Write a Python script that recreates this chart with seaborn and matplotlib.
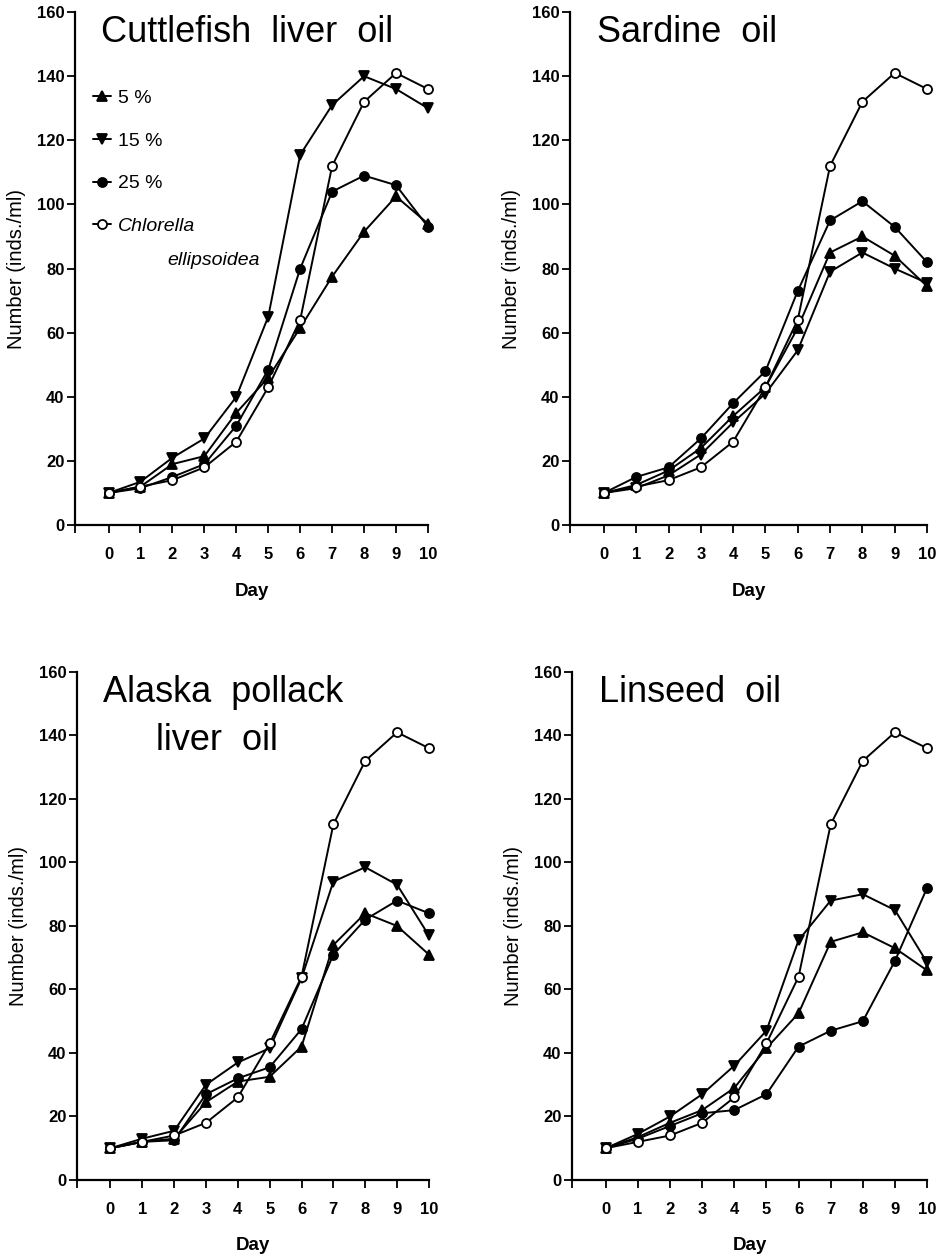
import matplotlib
matplotlib.use("Agg")
import matplotlib.pyplot as plt
import seaborn as sns

# ---- data ----
DAYS = [0, 1, 2, 3, 4, 5, 6, 7, 8, 9, 10]

# Chlorella ellipsoidea control (same curve in every panel)
chlorella = [10, 12, 14, 18, 26, 43, 64, 112, 132, 141, 136]

cuttle_5 = [10, 12, 19, 21.5, 35, 46, 61.5, 77.5, 91.5, 102.5, 94]
cuttle_15 = [10, 13.5, 21, 27, 40, 65, 115.5, 131, 140, 136, 130]
cuttle_25 = [10, 11.5, 15, 19, 31, 48.5, 80, 104, 109, 106, 93]

sardine_5 = [10, 12.5, 17, 24, 34, 43, 61.5, 85, 90, 84, 74.5]
sardine_15 = [10, 11.5, 15.5, 22, 32, 41, 54.5, 79, 85, 80, 75.5]
sardine_25 = [10, 15, 18, 27, 38, 48, 73, 95, 101, 93, 82]

alaska_5 = [10, 12, 13, 24.5, 31, 32.5, 42, 74, 84, 80, 71]
alaska_15 = [10, 13, 15.5, 30, 37, 41.5, 63.5, 94, 98.5, 93, 77]
alaska_25 = [10, 12, 12.5, 27, 32, 35.5, 47.5, 71, 82, 88, 84]

linseed_5 = [10, 13.5, 18, 22, 29, 41.5, 52.5, 75, 78, 73, 66]
linseed_15 = [10, 14.5, 20, 27, 36, 47, 75.5, 88, 90, 85, 68.5]
linseed_25 = [10, 13, 17, 21, 22, 27, 42, 47, 50, 69, 92]

SERIES_LABELS = ["5 %", "15 %", "25 %", "Chlorella"]
YTICKS = [0, 20, 40, 60, 80, 100, 120, 140, 160]

PANELS = [
    ("Cuttlefish  liver  oil", [cuttle_5, cuttle_15, cuttle_25, chlorella]),
    ("Sardine  oil", [sardine_5, sardine_15, sardine_25, chlorella]),
    ("Alaska  pollack", [alaska_5, alaska_15, alaska_25, chlorella]),
    ("Linseed  oil", [linseed_5, linseed_15, linseed_25, chlorella]),
]

# marker style per series: (marker, facecolor)
STYLES = [("^", "black"), ("v", "black"), ("o", "black"), ("o", "white")]

sns.set_style("ticks")
plt.rcParams["font.family"] = ["Liberation Sans", "DejaVu Sans"]
plt.rcParams.update({"text.color": "black", "axes.labelcolor": "black",
                     "xtick.color": "black", "ytick.color": "black",
                     "axes.edgecolor": "black"})

fig = plt.figure(figsize=(9.41, 12.57), dpi=100)

# axes boxes in figure fractions [left, bottom, width, height]
boxes = [
    [0.0797, 0.5823, 0.3751, 0.4081],
    [0.6057, 0.5823, 0.3794, 0.4081],
    [0.0818, 0.0613, 0.3740, 0.4041],
    [0.6079, 0.0613, 0.3773, 0.4041],
]

for k, (title, series) in enumerate(PANELS):
    ax = fig.add_axes(boxes[k])

    for vals, (mk, fc), lbl in zip(series, STYLES, SERIES_LABELS):
        sns.lineplot(x=DAYS, y=vals, ax=ax, color="black", linewidth=1.4,
                     marker=mk, markersize=6.5, markerfacecolor=fc,
                     markeredgecolor="black", markeredgewidth=1.3,
                     clip_on=False, label=lbl, legend=False)

    ax.set_xlim(-1.05, 10)
    ax.set_ylim(0, 160)
    ax.set_xticks(DAYS)
    ax.set_xticks([-1.05], minor=True)
    ax.set_yticks(YTICKS)
    ax.tick_params(axis="x", which="both", direction="out", length=6, width=1.3, pad=10)
    ax.tick_params(axis="y", direction="out", length=6, width=1.3, pad=1.5)
    for lab in ax.get_xticklabels() + ax.get_yticklabels():
        lab.set_fontweight("bold")
        lab.set_fontsize(12)

    sns.despine(ax=ax)
    for sp in ("left", "bottom"):
        ax.spines[sp].set_linewidth(1.6)

    ax.set_xlabel("Day", fontsize=13.5, fontweight="bold")
    ax.xaxis.set_label_coords(0.5, -0.113)
    ax.set_ylabel("Number (inds./ml)", fontsize=14.5)
    ax.yaxis.set_label_coords(-0.138, 0.5)

    ax.text(0.075, 0.9415, title, transform=ax.transAxes, fontsize=26,
            va="baseline", ha="left")
    if k == 2:
        ax.text(0.224, 0.846, "liver  oil", transform=ax.transAxes,
                fontsize=26, va="baseline", ha="left")

    if k == 0:
        handles, labels = ax.get_legend_handles_labels()
        leg = ax.legend(handles, labels, loc="upper left",
                        bbox_to_anchor=(0.052, 0.85), frameon=False,
                        borderpad=0, borderaxespad=0, handlelength=0.9,
                        handletextpad=0.35, labelspacing=1.3, fontsize=14)
        leg.get_texts()[-1].set_fontstyle("italic")
        ax.text(0.263, 0.516, "ellipsoidea", transform=ax.transAxes,
                fontsize=14, fontstyle="italic", va="center", ha="left")

fig.savefig("out.png", dpi=100)
